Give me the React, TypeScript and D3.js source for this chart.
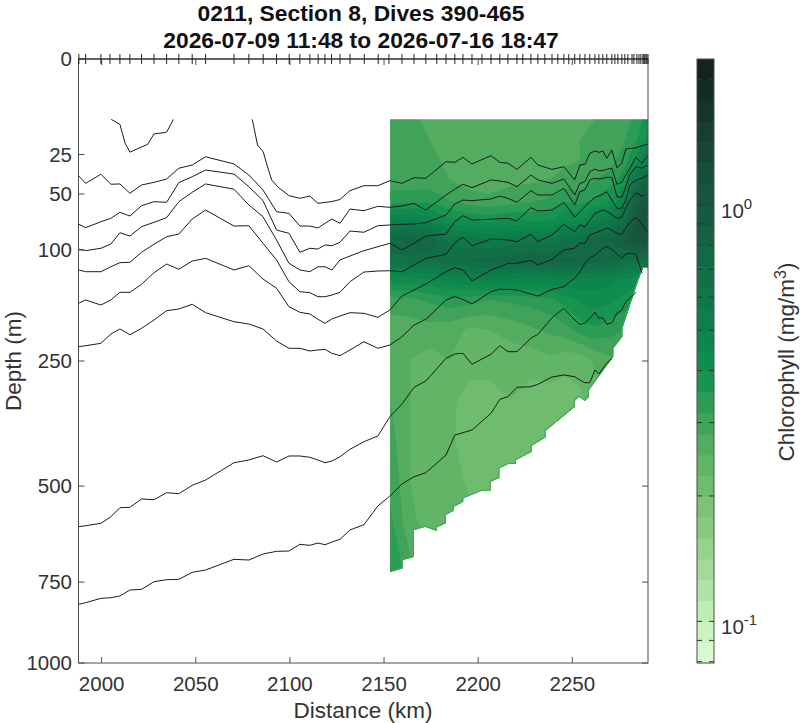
import * as d3 from 'd3'

const titleLines = ['0211, Section 8, Dives 390-465', '2026-07-09 11:48 to 2026-07-16 18:47']

const depthTicks = [0, 25, 50, 100, 250, 500, 750, 1000]
const distanceTicks = [2000, 2050, 2100, 2150, 2200, 2250]

// distance along track of every dive, drawn as ticks on the top axis
const diveDistance = [
  1987.9, 1991.5, 1999.6, 2004.4, 2009.7, 2015, 2021.2, 2027.8, 2034.5, 2041, 2048.1, 2055.2, 2070.3, 2078.2, 2085.8,
  2092.9, 2099.6, 2105.3, 2110.6, 2115, 2118.6, 2122.1, 2126.6, 2131.9, 2139.5, 2146.9, 2152.6, 2159.5, 2165.9, 2172.2,
  2178, 2182.9, 2187.6, 2191.9, 2196.7, 2202, 2206.8, 2211.5, 2215.8, 2220.6, 2223.7, 2228, 2231.7, 2235.4, 2239.2,
  2242.3, 2245.5, 2248.1, 2251.3, 2254, 2256.7, 2259.3, 2262, 2264.1, 2266.2, 2268.3, 2271, 2272.6, 2274.2, 2276.3,
  2277.9, 2279.5, 2281.7, 2282.7, 2284.3, 2285.4, 2286.4, 2287.5, 2288, 2288.5, 2289.1, 2289.6, 2290.2,
]

// chlorophyll section, log10(mg/m3), rows by depth and columns by distance
const chlDistance = [2153.3, 2164, 2174, 2185, 2196, 2206, 2217, 2227, 2238, 2246, 2254, 2262, 2270, 2278, 2283, 2290.2]
const chlDepth = [10, 18, 28, 40, 55, 71, 90, 111, 134, 159, 201, 248, 319, 398, 486, 582, 730]
const chlLog10 = [
  [-0.53, -0.54, -0.56, -0.57, -0.57, -0.56, -0.56, -0.57, -0.58, -0.56, -0.56, -0.55, -0.54, -0.52, -0.49, -0.42],
  [-0.53, -0.54, -0.55, -0.57, -0.57, -0.56, -0.56, -0.56, -0.56, -0.56, -0.55, -0.54, -0.53, -0.5, -0.47, -0.38],
  [-0.53, -0.53, -0.54, -0.56, -0.57, -0.57, -0.56, -0.56, -0.56, -0.56, -0.55, -0.53, -0.52, -0.47, -0.39, -0.28],
  [-0.52, -0.53, -0.53, -0.55, -0.57, -0.57, -0.56, -0.56, -0.55, -0.53, -0.53, -0.5, -0.48, -0.42, -0.22, -0.1],
  [-0.48, -0.47, -0.46, -0.5, -0.53, -0.54, -0.53, -0.51, -0.49, -0.46, -0.47, -0.44, -0.4, -0.3, -0.08, 0],
  [-0.3, -0.3, -0.32, -0.39, -0.41, -0.42, -0.4, -0.41, -0.41, -0.36, -0.36, -0.3, -0.25, -0.14, -0.01, 0.04],
  [-0.12, -0.09, -0.1, -0.21, -0.23, -0.25, -0.22, -0.22, -0.24, -0.2, -0.16, -0.12, -0.1, -0.05, 0.01, 0.03],
  [-0.17, -0.17, -0.18, -0.17, -0.15, -0.13, -0.13, -0.1, -0.1, -0.09, -0.1, -0.12, -0.13, -0.16, -0.18, -0.15],
  [-0.38, -0.38, -0.36, -0.33, -0.31, -0.3, -0.31, -0.32, -0.32, -0.3, -0.31, -0.33, -0.33, -0.36, -0.38, -0.38],
  [-0.52, -0.51, -0.49, -0.47, -0.48, -0.5, -0.49, -0.48, -0.46, -0.43, -0.39, -0.37, -0.39, -0.42, -0.44, -0.44],
  [-0.58, -0.58, -0.57, -0.58, -0.61, -0.6, -0.58, -0.56, -0.54, -0.52, -0.48, -0.46, -0.48, -0.5, -0.5, -0.5],
  [-0.58, -0.6, -0.62, -0.6, -0.63, -0.64, -0.63, -0.63, -0.61, -0.63, -0.63, -0.59, -0.56, -0.56, -0.56, -0.56],
  [-0.55, -0.6, -0.62, -0.64, -0.67, -0.66, -0.65, -0.67, -0.68, -0.68, -0.66, -0.63, -0.61, -0.6, -0.6, -0.6],
  [-0.53, -0.6, -0.62, -0.64, -0.68, -0.68, -0.67, -0.68, -0.68, -0.67, -0.65, -0.63, -0.61, -0.6, -0.6, -0.6],
  [-0.51, -0.6, -0.62, -0.63, -0.66, -0.67, -0.66, -0.66, -0.65, -0.64, -0.63, -0.61, -0.6, -0.6, -0.6, -0.6],
  [-0.49, -0.59, -0.62, -0.63, -0.64, -0.64, -0.64, -0.63, -0.63, -0.61, -0.6, -0.6, -0.6, -0.6, -0.6, -0.6],
  [-0.44, -0.53, -0.58, -0.61, -0.61, -0.61, -0.6, -0.6, -0.6, -0.6, -0.6, -0.6, -0.6, -0.6, -0.6, -0.6],
]

// deepest sample along the section, the lower edge of the filled area
const bottomDistance = [
  2153.5, 2159.8, 2159.8, 2165.9, 2165.9, 2171.7, 2177.9, 2177.9, 2182.7, 2182.7, 2187.1, 2187.1, 2192, 2192, 2201.8,
  2206.6, 2206.6, 2211.2, 2211.2, 2215.9, 2220, 2220, 2228.4, 2228.4, 2235.8, 2235.8, 2251.3, 2251.3, 2253.5, 2256.7,
  2258.8, 2258.8, 2271.7, 2271.7, 2276.5, 2276.5, 2285, 2287.5, 2290.2,
]
const bottomDepth = [
  720.6, 711, 688, 679, 608, 599.6, 610, 601, 590.9, 570, 559, 549.4, 537.2, 529, 510.9, 510.9, 489.8, 480.6, 459.2,
  449.6, 449.6, 440.8, 422.7, 409.9, 392.3, 378.7, 331.4, 320.1, 312.6, 320.1, 312.6, 300.3, 242.9, 229.4, 211.4, 198.8,
  133.9, 119.7, 119.7,
]

// density contours, shared distances
const isoDistance = [
  1987.7, 1991.5, 1999.6, 2004.9, 2009.7, 2015, 2021.2, 2027.8, 2034.5, 2041, 2048.1, 2055.2, 2070.3, 2078.2, 2085.7,
  2092.9, 2099.5, 2105.3, 2110.6, 2114.9, 2118.6, 2122.3, 2126.6, 2131.9, 2139.3, 2146.7, 2153.1, 2159.5, 2165.9, 2172.2,
  2182.9, 2187.6, 2191.9, 2196.7, 2206.8, 2211.5, 2215.8, 2220.6, 2228, 2231.7, 2239.2, 2245.5, 2251.3, 2254, 2256.7,
  2259.3, 2262, 2264.1, 2266.2, 2268.3, 2271, 2273.7, 2276.3, 2278.4, 2280.6, 2283.8, 2287, 2290.2,
]
const isoA = [
  37.3, 42.4, 36.4, 43, 42.8, 49.4, 43.5, 41.7, 39.5, 32.7, 30.8, 26.2, 30.2, 36.9, 47, 63.9, 65.3, 76.5, 76.5, 78.3, 74,
  70.2, 74, 61.7, 63.1, 59.5, 60.3, 59.2, 57.1, 62.5, 50.7, 46.5, 43, 45.4, 40.1, 40.8, 41.7, 44.7, 36.9, 40.1, 42.4,
  39.5, 50.7, 42.4, 41.3, 34.8, 33.2, 34.2, 34.2, 33.4, 32.7, 43, 41.7, 36.9, 32.7, 26.5, 29.8, 25.3,
]
const isoB = [
  74.6, 78, 72.6, 69.6, 64.4, 67.6, 59, 55.8, 56.3, 41.9, 38, 33.8, 36.3, 44.7, 55, 80.2, 83.3, 102.4, 98.2, 99, 94.8,
  95.6, 92.1, 81.1, 82.3, 76.2, 75.5, 74.9, 74.6, 73.5, 66.7, 57.6, 54.5, 55, 53.7, 51.5, 53.2, 56.3, 47.5, 50.7, 50.7,
  45.8, 58.4, 48.3, 47, 40.1, 39, 39.5, 39, 38.4, 38.4, 52.2, 52.2, 44.9, 36.3, 31.8, 32.6, 30.8,
]
const isoC = [
  99, 100.7, 98.2, 93.8, 82.7, 85.9, 77.1, 73.1, 69, 55.8, 48.7, 42.8, 46.5, 58.4, 68.2, 89.8, 114.4, 122, 124, 118.3,
  118.3, 122, 110.7, 106.4, 100.7, 96.6, 93.1, 100, 93.1, 85.9, 84, 72.6, 67.3, 71.1, 70.4, 69.9, 69.6, 71.7, 60.6, 63.3,
  62.5, 56.3, 68.7, 63.9, 59.8, 55.8, 52.4, 51.5, 50, 48.3, 54.5, 61.1, 61.1, 54.5, 43.5, 40.1, 39, 36.9,
]
const isoD = [
  122, 124, 124, 118.3, 113.7, 113.3, 102.4, 94.1, 86.6, 84, 70.2, 62.5, 76.5, 76.2, 93.1, 110.7, 136, 148.4, 149.7,
  154.9, 154.9, 152.7, 149.2, 136, 124.4, 123.2, 122.9, 124, 116.3, 108.9, 104.6, 92.5, 87.1, 95.6, 88.8, 89.1, 89.8,
  91.5, 84.2, 91.5, 84.9, 74.9, 81.8, 75.5, 77.1, 71.1, 65.3, 63.8, 62.5, 63.8, 66.3, 69.6, 68.7, 60.9, 54.5, 49.2, 51.5,
  49.2,
]
const isoE = [
  163.6, 159.2, 165.9, 159.2, 149.2, 149.2, 139.1, 125.2, 115.2, 121.2, 111.9, 108.9, 122, 117.1, 132.7, 144.1, 168.2,
  175.9, 178.2, 185.7, 191.5, 185.3, 181.1, 176.4, 177.3, 182.9, 172.7, 154, 146.3, 138.8, 124, 119.4, 122, 135.1, 122,
  118.3, 114.4, 114.4, 111.1, 116.3, 110, 100, 98.2, 92.8, 93.3, 84.9, 83, 81.6, 80.2, 78.3, 80.2, 83.5, 84, 78.3, 73.3,
  68.7, 74.6, 83,
]
const isoF = [
  226.9, 225.3, 221.6, 207.3, 199.8, 208.4, 198.8, 186.7, 173.7, 171.3, 164.9, 176.4, 189.2, 192.5, 199.8, 218, 229.4,
  229.4, 233.7, 232.1, 231, 237.4, 241.3, 232.1, 219.1, 229.4, 224.2, 211.4, 194, 185.7, 159.2, 154.9, 158.3, 164.5,
  148.4, 145.4, 145.4, 146.3, 151.4, 154, 145.4, 142.1, 131.5, 124, 114.4, 108.9, 105.3, 101.8, 98.2, 96.6, 99.3, 104.2,
  108.9, 104.2, 103.5, 104.2, 125.9, NaN,
]
const isoG = [
  599.6, 597.1, 590.9, 574.3, 551.9, 550.9, 530.7, 532.4, 515.6, 518, 498.2, 485.9, 446.8, 440.8, 431.4, 445.2, 432, 432,
  434.9, 440.8, 446.8, 443, 433.6, 417.6, 401.5, 389.6, 350.7, 326.3, 295.5, 284.2, 245.6, 238.6, 237.4, 255.5, 239,
  225.3, 234.8, 234.8, 213.8, 207.8, 183.5, 170.4, 186.7, 192.9, 191.5, 184.3, 175.9, 184.3, 183.5, 192.9, 190.6, 177.3,
  172.7, 161.5, 157, 149.2, NaN, NaN,
]
const isoH = [
  815.1, 810.3, 797.3, 795.5, 790.5, 772.9, 770.9, 748.9, 743.2, 742.1, 722.3, 715.8, 686.1, 688.1, 671.7, 664.4, 663.6,
  645.6, 648.3, 642.2, 646.7, 639.5, 632.4, 608.1, 594.5, 547.7, 523.5, 495.1, 478.3, 469.2, 429.9, 387.5, 382.8, 377.3,
  344.1, 317.4, 312.6, 295.5, 294.4, 290.1, 277.2, 273.7, 276.7, 282.5, 287.2, 287.2, 265.1, 272, 262.2, 253.8, 245.6,
  NaN, NaN, NaN, NaN, NaN, NaN, NaN,
]

// the shallowest contour has its own samples, it leaves the data range twice
const isoShallowDistA = [2005.1, 2009.7, 2012.4, 2015, 2021.2, 2024.4, 2027.8, 2034.5, 2038.1]
const isoShallowDepthA = [10, 11.7, 19.3, 23.8, 21.2, 20, 15.4, 14.7, 10]
const isoShallowDistB = [
  2080, 2082.8, 2085.8, 2088.3, 2090.3, 2093.6, 2099.5, 2105.3, 2110.6, 2114.9, 2118.6, 2122.3, 2126.6, 2131.9, 2139.3,
  2146.7, 2153.1, 2159.5, 2165.9, 2172.2, 2182.9, 2187.6, 2191.9, 2196.7, 2206.8, 2211.5, 2215.8, 2220.6, 2228, 2231.7,
  2239.2, 2245.5, 2251.3, 2254, 2256.7, 2259.3, 2262, 2264.1, 2266.2, 2268.3, 2271, 2273.7, 2276.3, 2278.4, 2280.6,
  2283.8, 2287, 2290.2,
]
const isoShallowDepthB = [
  10, 20.3, 23.6, 32.6, 40.1, 44.9, 51.2, 53.2, 51.5, 57.1, 56.4, 55.7, 54.1, 47.5, 44, 44, 40.6, 42.4, 38.6, 39, 28.9,
  29.3, 26.5, 30.2, 25.6, 29.3, 29.8, 33.4, 26.5, 30.8, 33.4, 31.8, 40.1, 30.8, 30.4, 24.4, 23.2, 23.9, 23.2, 27, 22.7,
  32.4, 29.8, 22.2, 21.9, 21.6, 20.6, 19.9,
]

// colour steps of the colorbar, low to high
const chlColors = [
  '#d9fad0', '#cbf3c1', '#bfecb4', '#b1e2a6', '#a3da99', '#96d28d', '#89ca81', '#7dc377', '#70bc6f', '#62b467',
  '#53ac5f', '#41a35a', '#2c9b55', '#189350', '#0f8c4e', '#0c864d', '#0c7f4b', '#0f7749', '#117047', '#136945',
  '#156242', '#165b40', '#17553d', '#174e3a', '#174634', '#173e2e', '#173527', '#152c20', '#13241a',
]
const chlLogMin = -1.1
const chlLogStep = 0.05
const colorbarTicks = [0.08, 0.09, 0.1, 0.2, 0.3, 0.4, 0.5, 0.6, 0.7, 0.8, 0.9, 1, 2]

const FONT = '"Liberation Sans", Arial, sans-serif'
const AXIS = '#4d4d4d'
const TEXT = '#333333'
const left = 78.5
const right = 648
const top = 59
const bottom = 663
const barLeft = 697
const barRight = 714

const x = d3.scaleLinear().domain([1987.7, 2290.2]).range([left, right])
const y = d3.scaleSqrt().domain([0, 1000]).range([top, bottom])
const barY = d3.scaleLog().domain([Math.pow(10, chlLogMin), Math.pow(10, chlLogMin + chlColors.length * chlLogStep)]).range([bottom, top])

const colX = d3.scaleLinear().domain(chlDistance.map((_, i) => i)).range(chlDistance.map(x)).clamp(true)
const rowY = d3.scaleLinear().domain(chlDepth.map((_, i) => i)).range(chlDepth.map(d => y(d))).clamp(true)

const levels = chlColors.map((_, i) => chlLogMin + i * chlLogStep)
const bands = d3.contours().size([chlDistance.length, chlDepth.length]).thresholds(levels)(chlLog10.flat())

function bandPath(coords: number[][][][]) {
  return coords
    .map(poly =>
      poly
        .map(ring => 'M' + ring.map(p => `${colX(p[0] - 0.5).toFixed(2)},${rowY(p[1] - 0.5).toFixed(2)}`).join('L') + 'Z')
        .join(''),
    )
    .join('')
}

const isoLine = d3
  .line<[number, number]>()
  .defined(d => !Number.isNaN(d[1]))
  .x(d => x(d[0]))
  .y(d => y(d[1]))

const zipIso = (dist: number[], depth: number[]) => dist.map((d, i) => [d, depth[i]] as [number, number])

const isoPaths = [
  zipIso(isoShallowDistA, isoShallowDepthA),
  zipIso(isoShallowDistB, isoShallowDepthB),
  ...[isoA, isoB, isoC, isoD, isoE, isoF, isoG, isoH].map(series => zipIso(isoDistance, series)),
]

const bottomEdge = zipIso(bottomDistance, bottomDepth)
const maskPoints: [number, number][] = [[chlDistance[0], 10], [2290.2, 10], ...[...bottomEdge].reverse(), [chlDistance[0], bottomDepth[0]]]

export default function App() {
  return (
    <svg width={800} height={723} style={{ position: 'absolute', left: 0, top: 0, display: 'block' }} fontFamily={FONT}>
      <defs>
        <clipPath id="chl-mask">
          <path d={d3.line<[number, number]>().x(d => x(d[0])).y(d => y(d[1]))(maskPoints) + 'Z'} />
        </clipPath>
      </defs>

      {titleLines.map((t, i) => (
        <text key={t} x={361} y={21 + i * 26.5} textAnchor="middle" fontSize={22.8} fontWeight="bold" fill="#111">
          {t}
        </text>
      ))}

      <g clipPath="url(#chl-mask)">
        {bands.map((b, i) => (
          <path key={i} d={bandPath(b.coordinates as number[][][][])} fill={chlColors[i]} />
        ))}
        <path d={isoLine(bottomEdge) ?? ''} fill="none" stroke="#45a65b" strokeWidth={2} />
      </g>

      {isoPaths.map((p, i) => (
        <path key={i} d={isoLine(p) ?? ''} fill="none" stroke="#1c1c1c" strokeWidth={1} strokeLinejoin="round" />
      ))}

      <rect x={left} y={top} width={right - left} height={bottom - top} fill="none" stroke={AXIS} strokeWidth={1} />

      {distanceTicks.map(t => (
        <g key={t}>
          <line x1={x(t)} x2={x(t)} y1={bottom} y2={bottom - 6} stroke={AXIS} />
          <line x1={x(t)} x2={x(t)} y1={top} y2={top + 6} stroke={AXIS} />
          <text x={x(t)} y={690.5} textAnchor="middle" fontSize={20.5} fill={TEXT}>
            {t}
          </text>
        </g>
      ))}
      {depthTicks.map(t => (
        <g key={t}>
          <line x1={left} x2={left + 6} y1={y(t)} y2={y(t)} stroke={AXIS} />
          <line x1={right} x2={right - 6} y1={y(t)} y2={y(t)} stroke={AXIS} />
          <text x={72} y={y(t) + 7} textAnchor="end" fontSize={20.5} fill={TEXT}>
            {t}
          </text>
        </g>
      ))}
      {diveDistance.map((d, i) => (
        <line key={i} x1={x(d)} x2={x(d)} y1={top - 5} y2={top + 5} stroke="#222" strokeWidth={1} />
      ))}
      <line x1={left} x2={right} y1={top} y2={top} stroke="#222" />

      <text x={363} y={718} textAnchor="middle" fontSize={22.5} fill={TEXT}>
        Distance (km)
      </text>
      <text transform="translate(21,361) rotate(-90)" textAnchor="middle" fontSize={22.5} fill={TEXT}>
        Depth (m)
      </text>

      {chlColors.map((c, i) => {
        const y0 = barY(Math.pow(10, levels[i]))
        const y1 = barY(Math.pow(10, levels[i] + chlLogStep))
        return <rect key={c} x={barLeft} y={y1} width={barRight - barLeft} height={y0 - y1 + 0.5} fill={c} />
      })}
      <rect x={barLeft} y={top} width={barRight - barLeft} height={bottom - top} fill="none" stroke={AXIS} />
      {colorbarTicks.map(t => (
        <g key={t}>
          <line x1={barLeft} x2={barLeft + 5} y1={barY(t)} y2={barY(t)} stroke="#333" />
          <line x1={barRight} x2={barRight - 5} y1={barY(t)} y2={barY(t)} stroke="#333" />
        </g>
      ))}
      {[
        { v: 1, exp: '0' },
        { v: 0.1, exp: '-1' },
      ].map(l => (
        <text key={l.v} x={721} y={barY(l.v) + 13} fontSize={20.5} fill={TEXT}>
          10
          <tspan dy={-9} fontSize={15}>
            {l.exp}
          </tspan>
        </text>
      ))}
      <text transform="translate(794,362) rotate(-90)" textAnchor="middle" fontSize={22.5} fill={TEXT}>
        Chlorophyll (mg/m
        <tspan dy={-8} fontSize={16}>
          3
        </tspan>
        <tspan dy={8}>)</tspan>
      </text>
    </svg>
  )
}
